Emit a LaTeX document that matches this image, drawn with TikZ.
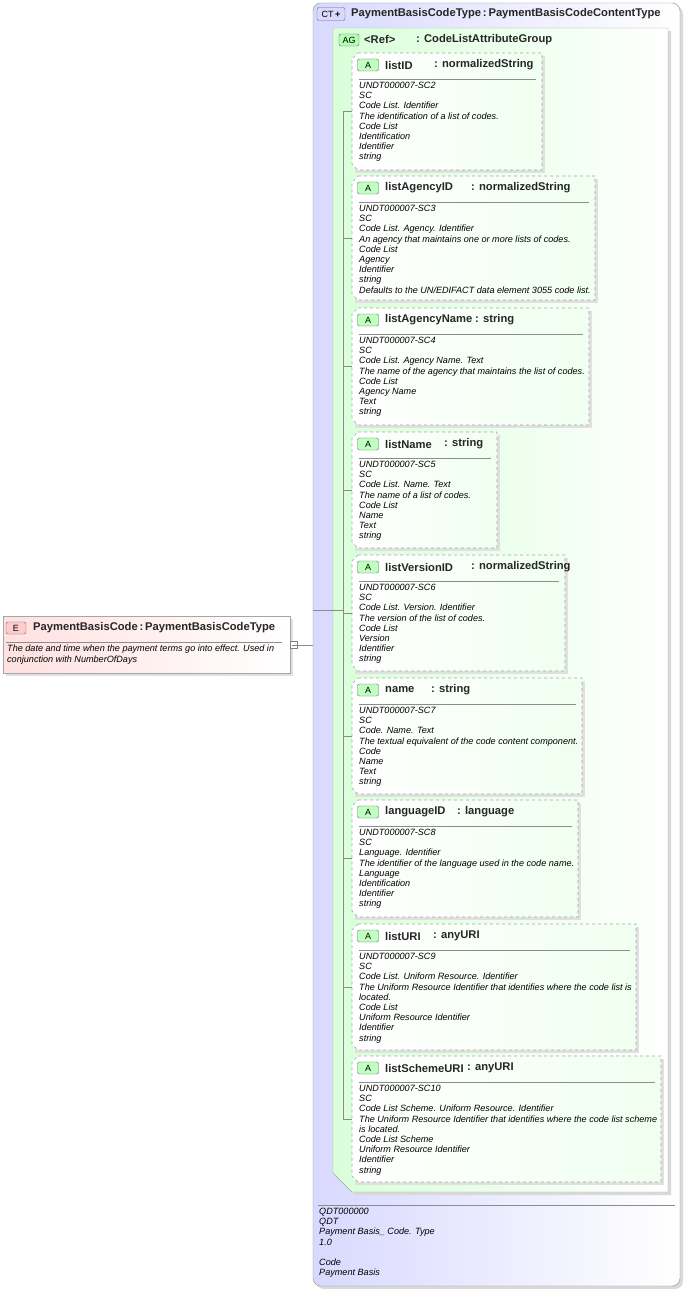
\documentclass[tikz,border=0pt]{standalone}
\usepackage{fontspec}
\setmainfont{Liberation Sans}
\begin{document}
\begin{tikzpicture}[x=1pt,y=-1pt,
  body/.style={anchor=north west,inner sep=0pt,align=left,font=\fontsize{9.1}{10.2}\selectfont\itshape},
  ttl/.style={anchor=west,inner sep=0pt,font=\fontsize{11.2}{12}\selectfont\bfseries,text=black!85},
  badge/.style={draw=black!60,rounded corners=2pt,inner sep=0pt,font=\fontsize{9}{9}\selectfont},
  conn/.style={draw=black!45,line width=0.5pt},
  attrbox/.style={draw=black!35,dashed,line width=0.6pt,left color=white,right color=green!6}]
\useasboundingbox (0,0) rectangle (684,1289);
% CT box
\fill[black!15,rounded corners=8pt] (316,6) rectangle (683,1289);
\draw[black!45,rounded corners=8pt,left color=blue!15,right color=white] (313,3) rectangle (680,1286);
\node[badge,fill=blue!15,minimum width=28pt,minimum height=13pt] (ctb) at (331,14) {CT\,\textbf{+}};
\node[ttl] (ctt) at (351,14) {PaymentBasisCodeType\,:\,PaymentBasisCodeContentType};
% AG box
\fill[black!15] (336,31) -- (671,31) -- (671,1195) -- (355,1195) -- (336,1176) -- cycle;
\draw[black!35,left color=green!15,right color=white] (333,28) -- (668,28) -- (668,1192) -- (352,1192) -- (333,1173) -- cycle;
\node[badge,fill=green!30,minimum width=20pt,minimum height=12pt] (agb) at (349,40) {AG};
\node[ttl] (agt) at (364,40) {<Ref>};
\node[ttl] (agt2) at (416,40) {: CodeListAttributeGroup};
% connectors
\coordinate (vtop) at (343,112);
\coordinate (vbot) at (343,1119);
\draw[conn] (vtop) -- (vbot);
\newcommand{\attr}[8]{%
  \fill[black!12] (355,#3+3) rectangle (#2+3,#4+3);
  \draw[attrbox] (358,#3) -- (#2,#3) -- (#2,#4) -- (358,#4) -- (352,#4-6) -- (352,#3+6) -- cycle;
  \node[badge,fill=green!25,minimum width=21pt,minimum height=12pt] (#1b) at (368,#3+12) {A};
  \node[ttl] (#1t) at (385,#3+12) {#5};
  \node[ttl] (#1ty) at (#6,#3+12) {#7};
  \draw[black!45] (359,#3+26) -- (#2-6,#3+26);
  \node[body] (#1x) at (359,#3+29) {#8};
  \coordinate (#1c) at (352,{(#3+#4)/2});
  \draw[conn] (343,{(#3+#4)/2}) -- (#1c);}
\attr{a1}{542}{53}{170}{listID}{434}{: normalizedString}{UNDT000007-SC2\\SC\\Code List. Identifier\\The identification of a list of codes.\\Code List\\Identification\\Identifier\\string}
\attr{a2}{595}{176}{300}{listAgencyID}{471}{: normalizedString}{UNDT000007-SC3\\SC\\Code List. Agency. Identifier\\An agency that maintains one or more lists of codes.\\Code List\\Agency\\Identifier\\string\\Defaults to the UN/EDIFACT data element 3055 code list.}
\attr{a3}{589}{308}{425}{listAgencyName}{475}{: string}{UNDT000007-SC4\\SC\\Code List. Agency Name. Text\\The name of the agency that maintains the list of codes.\\Code List\\Agency Name\\Text\\string}
\attr{a4}{497}{432}{548}{listName}{444}{: string}{UNDT000007-SC5\\SC\\Code List. Name. Text\\The name of a list of codes.\\Code List\\Name\\Text\\string}
\attr{a5}{565}{555}{671}{listVersionID}{471}{: normalizedString}{UNDT000007-SC6\\SC\\Code List. Version. Identifier\\The version of the list of codes.\\Code List\\Version\\Identifier\\string}
\attr{a6}{582}{678}{794}{name}{431}{: string}{UNDT000007-SC7\\SC\\Code. Name. Text\\The textual equivalent of the code content component.\\Code\\Name\\Text\\string}
\attr{a7}{578}{800}{917}{languageID}{457}{: language}{UNDT000007-SC8\\SC\\Language. Identifier\\The identifier of the language used in the code name.\\Language\\Identification\\Identifier\\string}
\attr{a8}{636}{924}{1050}{listURI}{433}{: anyURI}{UNDT000007-SC9\\SC\\Code List. Uniform Resource. Identifier\\The Uniform Resource Identifier that identifies where the code list is\\located.\\Code List\\Uniform Resource Identifier\\Identifier\\string}
\attr{a9}{661}{1056}{1182}{listSchemeURI}{467}{: anyURI}{UNDT000007-SC10\\SC\\Code List Scheme. Uniform Resource. Identifier\\The Uniform Resource Identifier that identifies where the code list scheme\\is located.\\Code List Scheme\\Uniform Resource Identifier\\Identifier\\string}
% footer
\draw[black!45] (318,1205) -- (675,1205);
\node[body] (foot) at (319,1208) {QDT000000\\QDT\\Payment Basis\_ Code. Type\\1.0\\[10.2pt]Code\\Payment Basis};
% element
\fill[black!12] (6,619) rectangle (293,676);
\draw[black!35,left color=red!12,right color=white] (3,616) rectangle (290,673);
\node[badge,fill=red!20,minimum width=20pt,minimum height=12pt] (eb) at (16,628) {E};
\node[ttl] (et) at (33,628) {PaymentBasisCode\,:\,PaymentBasisCodeType};
\draw[black!45] (6,642) -- (282,642);
\node[body] (ex) at (7,645) {The date and time when the payment terms go into effect. Used in\\conjunction with NumberOfDays};
\node[draw=black!50,fill=white,minimum width=7pt,minimum height=7pt,inner sep=0pt] (ep) at (294,645) {};
\draw[black!50] (291.5,645) -- (296.5,645);
\coordinate (ctin) at (313,645);
\draw[conn] (ep) -- (ctin);
\coordinate (h1) at (313,610);
\draw[conn] (h1) -- (343,610);
\end{tikzpicture}
\end{document}
